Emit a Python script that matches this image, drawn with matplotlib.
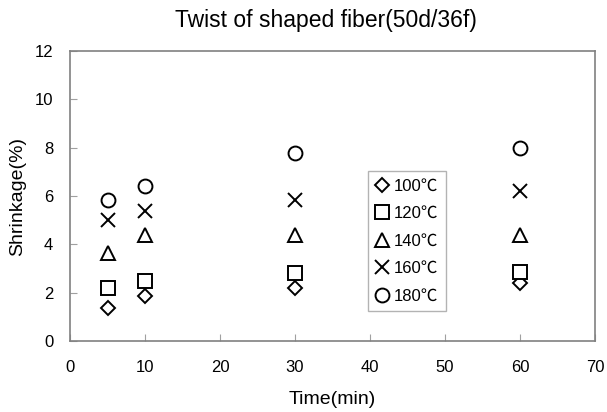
import matplotlib
matplotlib.use("Agg")
import matplotlib.pyplot as plt

plt.rcParams['font.family'] = ['Liberation Sans', 'Noto Sans CJK KR', 'DejaVu Sans']

times = [5, 10, 30, 60]
labels = ['100℃', '120℃', '140℃', '160℃', '180℃']
s100 = [1.35, 1.85, 2.2, 2.4]
s120 = [2.2, 2.5, 2.8, 2.85]
s140 = [3.65, 4.4, 4.4, 4.4]
s160 = [5.0, 5.4, 5.85, 6.2]
s180 = [5.85, 6.4, 7.8, 8.0]
series = [s100, s120, s140, s160, s180]
markers = ['D', 's', '^', 'x', 'o']
sizes = [7.5, 9.5, 10, 10, 10]

fig = plt.figure(figsize=(6.07, 4.12), dpi=100)
ax = fig.add_axes([70/607, 1-341/412, 525/607, 290/412])

for vals, m, lab, sz in zip(series, markers, labels, sizes):
    if m == 'x':
        ax.plot(times, vals, linestyle='none', marker=m, markersize=sz,
                color='black', markeredgewidth=1.4, label=lab)
    else:
        ax.plot(times, vals, linestyle='none', marker=m, markersize=sz,
                markerfacecolor='white', markeredgecolor='black',
                markeredgewidth=1.4, label=lab)

ax.set_xlim(0, 70)
ax.set_ylim(0, 12)
ax.set_xticks(range(0, 71, 10))
ax.set_yticks(range(0, 13, 2))
for sp in ax.spines.values():
    sp.set_color('#808080')
    sp.set_linewidth(1.2)
ax.tick_params(direction='in', length=5, color='#a0a0a0', labelsize=12)
ax.tick_params(axis='x', pad=14)
ax.tick_params(axis='y', pad=12)
ax.set_xlabel('Time(min)', fontsize=14, labelpad=11)
ax.set_ylabel('Shrinkage(%)', fontsize=14, labelpad=6)
fig.text(326/607, 1-20/412, 'Twist of shaped fiber(50d/36f)', fontsize=16.5,
         ha='center', va='center')

leg = ax.legend(loc='lower left', bbox_to_anchor=(0.567, 0.103), frameon=True,
                fancybox=False, edgecolor='#a0a0a0', fontsize=12,
                handlelength=0.8, handletextpad=0.3, labelspacing=0.75,
                borderpad=0.45, borderaxespad=0)
leg.get_frame().set_linewidth(1.0)

fig.savefig('out.png', dpi=100, facecolor='white')
